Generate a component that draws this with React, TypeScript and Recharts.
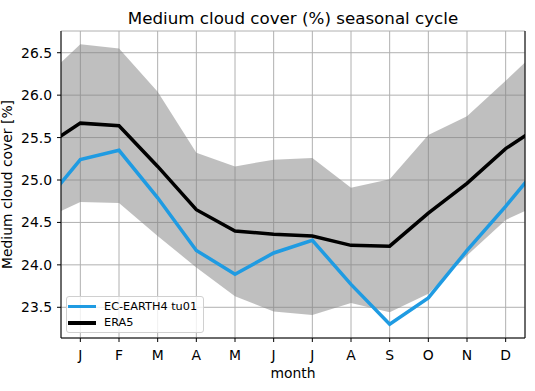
import React from 'react';
import {
  ComposedChart, Line, Area, XAxis, YAxis, CartesianGrid, Label
} from 'recharts';

// monthly values, Jan..Dec
const months = ['J', 'F', 'M', 'A', 'M', 'J', 'J', 'A', 'S', 'O', 'N', 'D'];
const era5 = [25.67, 25.64, 25.16, 24.65, 24.40, 24.36, 24.34, 24.23, 24.22, 24.61, 24.96, 25.37];
const ecEarth = [25.24, 25.35, 24.79, 24.17, 23.89, 24.14, 24.29, 23.77, 23.30, 23.61, 24.17, 24.69];
const bandHigh = [26.60, 26.55, 26.04, 25.32, 25.16, 25.24, 25.26, 24.91, 25.01, 25.53, 25.75, 26.17];
const bandLow = [24.74, 24.73, 24.34, 23.97, 23.63, 23.45, 23.41, 23.55, 23.44, 23.66, 24.11, 24.53];
const yTicks = [23.5, 24.0, 24.5, 25.0, 25.5, 26.0, 26.5];
const xTicks = [1, 2, 3, 4, 5, 6, 7, 8, 9, 10, 11, 12];

const FONT = "'DejaVu Sans', sans-serif";
const BLUE = '#1f9be2';

// wrap Dec before Jan and Jan after Dec so the cycle reaches the plot edges
const idx = [11, 0, 1, 2, 3, 4, 5, 6, 7, 8, 9, 10, 11, 0];
const data = idx.map((i, k) => ({
  m: k,
  era5: era5[i],
  model: ecEarth[i],
  lo: bandLow[i],
  hi: bandHigh[i],
}));

const legendItems = [
  { name: 'EC-EARTH4 tu01', color: BLUE },
  { name: 'ERA5', color: '#000' },
];

const LegendBox = () => (
  <div style={{
    position: 'absolute', left: 66, top: 296, width: 138, height: 37, boxSizing: 'border-box',
    fontFamily: FONT, fontSize: 11.3, color: '#000', whiteSpace: 'nowrap',
    background: 'rgba(255,255,255,0.8)', border: '1px solid #d0d0d0', borderRadius: 3,
    padding: '1px 0 0 1px'
  }}>
    {legendItems.map(e => (
      <div key={e.name} style={{ display: 'flex', alignItems: 'center', height: 16.5 }}>
        <span style={{ display: 'inline-block', width: 28, height: 3.5, background: e.color, marginRight: 8 }} />
        <span>{e.name}</span>
      </div>
    ))}
  </div>
);

export default function App() {
  const tick = { fill: '#000', fontSize: 13.9, fontFamily: FONT };
  return (
    <div style={{ position: 'absolute', left: 0, top: 0, width: 535, height: 391, background: '#fff' }}>
      <div style={{
        position: 'absolute', left: 61, width: 464, top: 7.5, textAlign: 'center',
        fontFamily: FONT, fontSize: 16.7, lineHeight: '20px', color: '#000'
      }}>
        Medium cloud cover (%) seasonal cycle
      </div>
      <ComposedChart width={535} height={391} data={data} margin={{ top: 31, right: 0, bottom: 0, left: 0 }}>
        <CartesianGrid stroke="#b0b0b0" strokeWidth={1} />
        <XAxis
          dataKey="m" type="number" domain={[0.5, 12.5]} allowDataOverflow ticks={xTicks}
          tickFormatter={(v: number) => months[v - 1]} interval={0}
          height={53} tick={tick} tickSize={4} tickMargin={8}
          axisLine={{ stroke: '#000' }} tickLine={{ stroke: '#000' }}
        >
          <Label value="month" position="insideBottom" offset={13} style={{ fontFamily: FONT, fontSize: 13.9, fill: '#000' }} />
        </XAxis>
        <XAxis
          xAxisId="t" orientation="top" dataKey="m" type="number" domain={[0.5, 12.5]} allowDataOverflow
          height={0} tick={false} tickLine={false} axisLine={{ stroke: '#000' }}
        />
        <YAxis
          type="number" domain={[23.138, 26.756]} allowDataOverflow ticks={yTicks}
          tickFormatter={(v: number) => v.toFixed(1)} width={61} tick={tick} tickSize={4} tickMargin={5}
          axisLine={{ stroke: '#000' }} tickLine={{ stroke: '#000' }}
        >
          <Label value="Medium cloud cover [%]" angle={-90} position="center" dx={-23} style={{ fontFamily: FONT, fontSize: 13.9, fill: '#000', textAnchor: 'middle' }} />
        </YAxis>
        <YAxis
          yAxisId="r" orientation="right" type="number" domain={[23.138, 26.756]} allowDataOverflow
          width={10} tick={false} tickLine={false} axisLine={{ stroke: '#000' }}
        />
        <Area
          type="linear" dataKey={(d: any) => [d.lo, d.hi]} stroke="none" fill="#808080" fillOpacity={0.5}
          isAnimationActive={false} dot={false} activeDot={false}
        />
        <Line type="linear" dataKey="model" stroke={BLUE} strokeWidth={3.5} dot={false} activeDot={false} isAnimationActive={false} />
        <Line type="linear" dataKey="era5" stroke="#000" strokeWidth={3.5} dot={false} activeDot={false} isAnimationActive={false} />
      </ComposedChart>
      <LegendBox />
    </div>
  );
}
